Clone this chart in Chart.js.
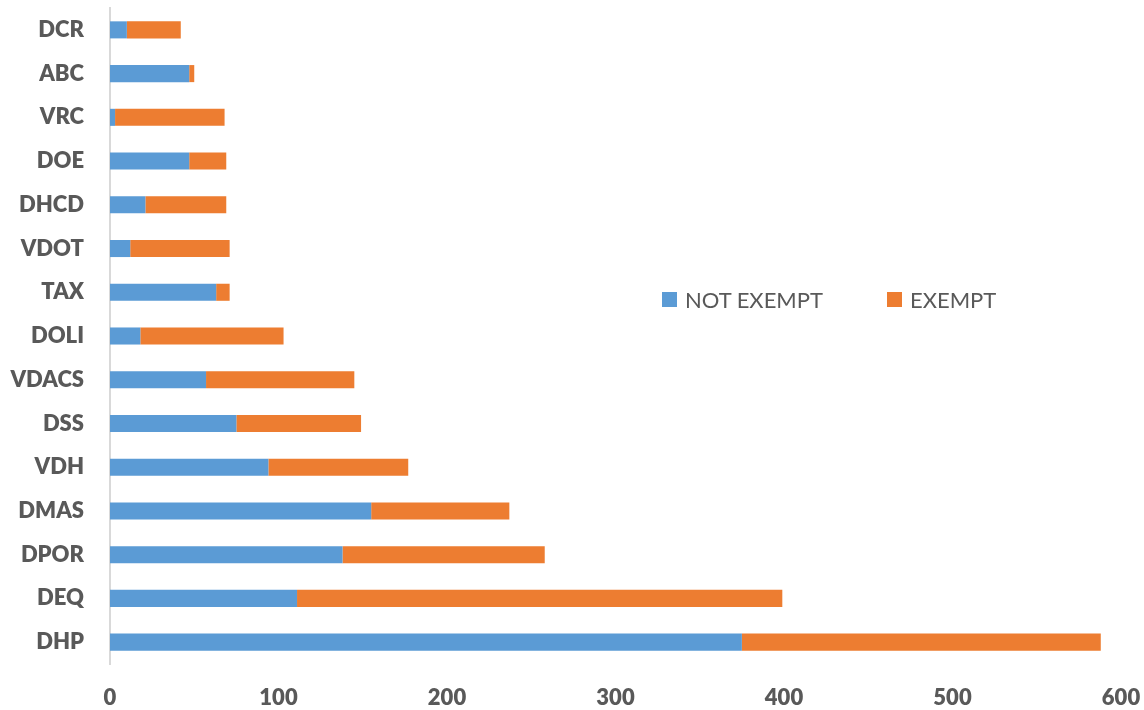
<!DOCTYPE html>
<html>
<head>
<meta charset="utf-8">
<script src="https://cdn.jsdelivr.net/npm/chart.js@4/dist/chart.umd.min.js"></script>
<style>
  html, body { margin: 0; padding: 0; background: #fff; }
  #wrap { position: relative; width: 1144px; height: 710px; }
  #legend { position: absolute; left: 662px; top: 286px; display: flex; font-family: Lato, "Open Sans", sans-serif; font-size: 22px; color: #595959; }
  .item { display: flex; align-items: center; margin-right: 64px; }
  .box { width: 15px; height: 15px; margin-right: 8px; }
</style>
</head>
<body>
<div id="wrap">
  <canvas id="c" width="1144" height="710"></canvas>
  <div id="legend"></div>
</div>
<script>
const categories = ["DCR","ABC","VRC","DOE","DHCD","VDOT","TAX","DOLI","VDACS","DSS","VDH","DMAS","DPOR","DEQ","DHP"];
const notExempt = [10, 47, 3, 47, 21, 12, 63, 18, 57, 75, 94, 155, 138, 111, 375];
const exempt    = [32, 3, 65, 22, 48, 59, 8, 85, 88, 74, 83, 82, 120, 288, 213];
const seriesNames = ["NOT EXEMPT", "EXEMPT"];
const seriesColors = ["#5B9BD5", "#ED7D31"];
const xTicks = [0, 100, 200, 300, 400, 500, 600];

const datasets = [notExempt, exempt].map((d, i) => ({
  label: seriesNames[i],
  data: d,
  backgroundColor: seriesColors[i],
  borderWidth: 0,
  barPercentage: 0.39,
  categoryPercentage: 1.0
}));

const tickFont = { family: "Lato, 'Open Sans', sans-serif", size: 22, weight: 800 };

new Chart(document.getElementById("c"), {
  type: "bar",
  data: { labels: categories, datasets },
  options: {
    indexAxis: "y",
    responsive: false,
    animation: false,
    layout: { padding: { top: 8, right: 0, left: 0, bottom: 0 } },
    plugins: { legend: { display: false }, tooltip: { enabled: false } },
    scales: {
      x: {
        stacked: true,
        min: xTicks[0],
        max: xTicks[xTicks.length - 1],
        afterBuildTicks: (s) => { s.ticks = xTicks.map(v => ({ value: v })); },
        afterFit: (s) => { s.height = 46; s.paddingLeft = 0; s.paddingRight = 23; },
        grid: { display: false, drawTicks: false },
        border: { display: false },
        ticks: { color: "#595959", font: tickFont, padding: 21, maxRotation: 0 }
      },
      y: {
        stacked: true,
        afterFit: (s) => { s.width = 110; s.paddingTop = 8; s.paddingBottom = 0; },
        grid: { display: false, drawTicks: false },
        border: { display: true, color: "#D9D9D9", width: 2 },
        ticks: { color: "#595959", font: tickFont, padding: 26 }
      }
    }
  }
});

const leg = document.getElementById("legend");
seriesNames.forEach((n, i) => {
  const it = document.createElement("div");
  it.className = "item";
  const b = document.createElement("span");
  b.className = "box";
  b.style.background = seriesColors[i];
  const t = document.createElement("span");
  t.textContent = n;
  it.appendChild(b); it.appendChild(t);
  leg.appendChild(it);
});
</script>
</body>
</html>
